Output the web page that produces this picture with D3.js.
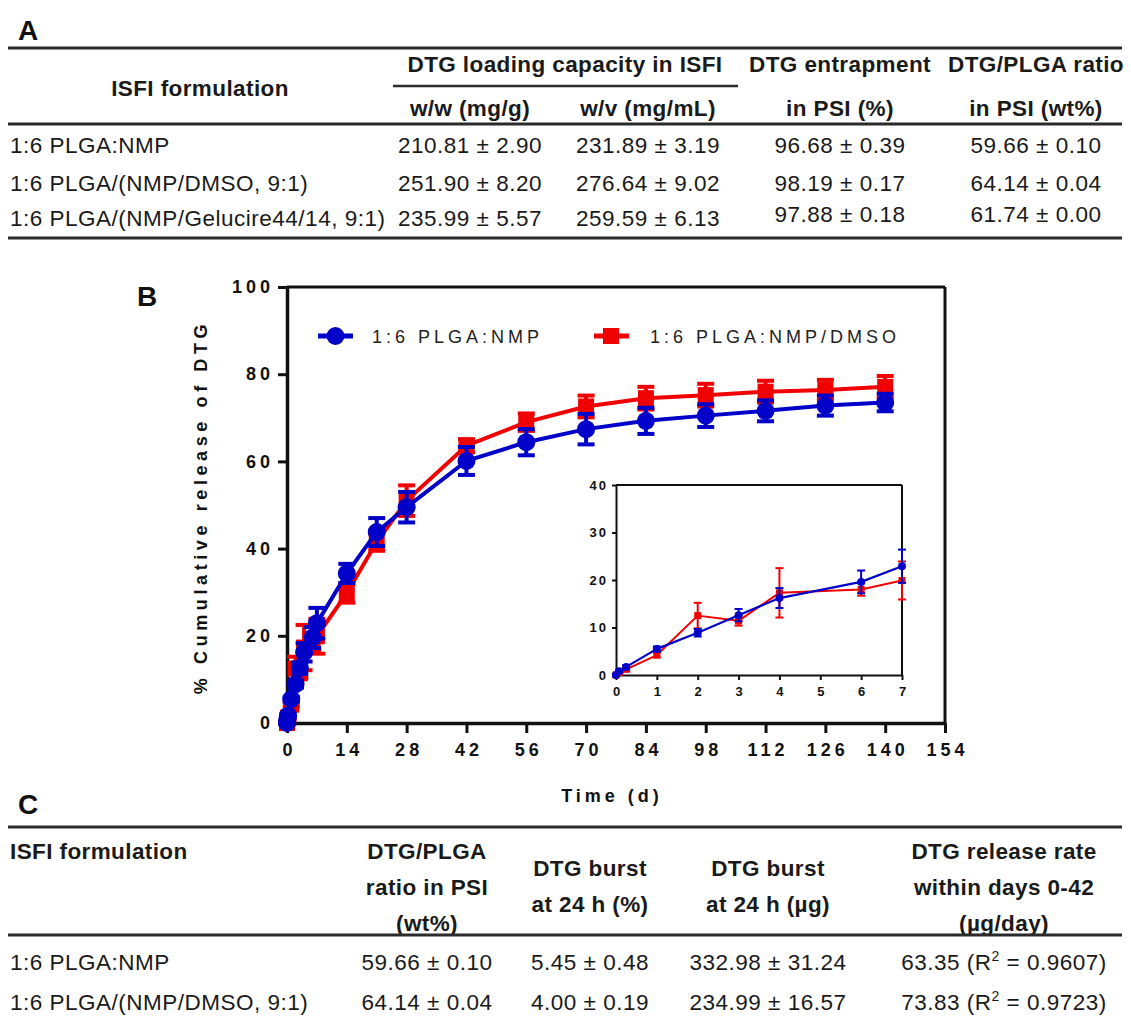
<!DOCTYPE html>
<html>
<head>
<meta charset="utf-8">
<script src="https://cdn.jsdelivr.net/npm/d3@7"></script>
<style>
  html, body { margin: 0; padding: 0; background: #fff; }
  svg { display: block; }
  .tbl { font-family: "Liberation Sans", Arial, sans-serif; font-size: 22.5px; fill: #1a1a1a; letter-spacing: 0.5px; }
  .tbl .hd { font-weight: bold; letter-spacing: 0.4px; }
  .ax text { font-family: "Liberation Sans", Arial, sans-serif; font-weight: bold; fill: #111; }
</style>
</head>
<body>
<div id="chart"></div>
<script>
// ---- release data (days, % cumulative release of DTG) ----
const days      = [0, 0.08, 0.25, 1, 2, 3, 4, 6, 7, 14, 21, 28, 42, 56, 70, 84, 98, 112, 126, 140];
const nmpMean   = [0, 0.8, 1.7, 5.5, 8.9, 12.6, 16.2, 19.6, 22.9, 34.3, 43.8, 49.5, 60.1, 64.4, 67.4, 69.3, 70.5, 71.6, 72.8, 73.5];
const nmpSd     = [0.2, 0.3, 0.4, 0.5, 0.8, 1.3, 2.1, 2.4, 3.5, 2.2, 3.2, 3.5, 3.2, 3.0, 3.5, 3.0, 2.6, 2.4, 2.3, 2.0];
const dmsoMean  = [0, 0.5, 1.2, 4.2, 12.5, 11.4, 17.3, 18.0, 19.9, 29.8, 41.5, 51.0, 63.6, 69.0, 72.6, 74.5, 75.2, 76.0, 76.4, 77.1];
const dmsoSd    = [0.2, 0.3, 0.4, 0.5, 2.7, 1.0, 5.2, 1.3, 4.0, 2.2, 2.0, 3.5, 1.5, 2.0, 2.5, 2.6, 2.6, 2.5, 2.3, 2.5];
const seriesNames = ["1:6 PLGA:NMP", "1:6 PLGA:NMP/DMSO"];
const xTicks    = [0, 14, 28, 42, 56, 70, 84, 98, 112, 126, 140, 154];
const yTicks    = [0, 20, 40, 60, 80, 100];
const insetXTicks = [0, 1, 2, 3, 4, 5, 6, 7];
const insetYTicks = [0, 10, 20, 30, 40];

// ---- table A ----
const tableAHead = ["ISFI formulation", "DTG loading capacity in ISFI", "w/w (mg/g)", "w/v (mg/mL)",
                    ["DTG entrapment", "in PSI (%)"], ["DTG/PLGA ratio", "in PSI (wt%)"]];
const tableARows = ["1:6 PLGA:NMP", "1:6 PLGA/(NMP/DMSO, 9:1)", "1:6 PLGA/(NMP/Gelucire44/14, 9:1)"];
const tableAww   = ["210.81 ± 2.90", "251.90 ± 8.20", "235.99 ± 5.57"];
const tableAwv   = ["231.89 ± 3.19", "276.64 ± 9.02", "259.59 ± 6.13"];
const tableAent  = ["96.68 ± 0.39", "98.19 ± 0.17", "97.88 ± 0.18"];
const tableAratio = ["59.66 ± 0.10", "64.14 ± 0.04", "61.74 ± 0.00"];

// ---- table C ----
const tableCHead = [["ISFI formulation"], ["DTG/PLGA", "ratio in PSI", "(wt%)"], ["DTG burst", "at 24 h (%)"],
                    ["DTG burst", "at 24 h (µg)"], ["DTG release rate", "within days 0-42", "(µg/day)"]];
const tableCRows = ["1:6 PLGA:NMP", "1:6 PLGA/(NMP/DMSO, 9:1)"];
const tableCratio = ["59.66 ± 0.10", "64.14 ± 0.04"];
const tableCburstPct = ["5.45 ± 0.48", "4.00 ± 0.19"];
const tableCburstUg = ["332.98 ± 31.24", "234.99 ± 16.57"];
const tableCrate = ["63.35", "73.83"];
const tableCr2 = ["0.9607", "0.9723"];

const W = 1131, H = 1028;
const BLUE = "#0000c8", RED = "#f00000";

const svg = d3.select("#chart").append("svg").attr("width", W).attr("height", H);
svg.append("rect").attr("width", W).attr("height", H).attr("fill", "#fff");

function panelLabel(t, x, y) {
  svg.append("text").attr("x", x).attr("y", y).text(t)
    .attr("font-family", "Liberation Sans, Arial, sans-serif")
    .attr("font-weight", "bold").attr("font-size", 28).attr("fill", "#111");
}
function rule(y, x0, x1, w) {
  svg.append("line").attr("x1", x0).attr("x2", x1).attr("y1", y).attr("y2", y)
    .attr("stroke", "#2a2a2a").attr("stroke-width", w || 3);
}

// ================= Table A =================
panelLabel("A", 18, 40);
const tA = svg.append("g").attr("class", "tbl");
rule(48, 8, 1122);
rule(124, 8, 1122);
rule(238, 8, 1122);
const colA = [null, 470, 648, 840, 1036];
tA.append("text").attr("class", "hd").attr("x", 200).attr("y", 96).attr("text-anchor", "middle").text(tableAHead[0]);
tA.append("text").attr("class", "hd").attr("x", 565).attr("y", 72).attr("text-anchor", "middle").text(tableAHead[1]);
svg.append("line").attr("x1", 393).attr("x2", 738).attr("y1", 86).attr("y2", 86).attr("stroke", "#2a2a2a").attr("stroke-width", 2.5);
tA.append("text").attr("class", "hd").attr("x", colA[1]).attr("y", 116).attr("text-anchor", "middle").text(tableAHead[2]);
tA.append("text").attr("class", "hd").attr("x", colA[2]).attr("y", 116).attr("text-anchor", "middle").text(tableAHead[3]);
tableAHead[4].forEach((s, i) => tA.append("text").attr("class", "hd").attr("x", colA[3]).attr("y", 72 + i * 44).attr("text-anchor", "middle").text(s));
tableAHead[5].forEach((s, i) => tA.append("text").attr("class", "hd").attr("x", colA[4]).attr("y", 72 + i * 44).attr("text-anchor", "middle").text(s));
const rowYA = [153, 191, 226];
tableARows.forEach((r, i) => {
  const y = rowYA[i];
  tA.append("text").attr("x", 10).attr("y", y).text(r);
  tA.append("text").attr("x", colA[1]).attr("y", y).attr("text-anchor", "middle").text(tableAww[i]);
  tA.append("text").attr("x", colA[2]).attr("y", y).attr("text-anchor", "middle").text(tableAwv[i]);
  const dy = i === 2 ? -4 : 0;
  tA.append("text").attr("x", colA[3]).attr("y", y + dy).attr("text-anchor", "middle").text(tableAent[i]);
  tA.append("text").attr("x", colA[4]).attr("y", y + dy).attr("text-anchor", "middle").text(tableAratio[i]);
});

// ================= Panel B chart =================
panelLabel("B", 137, 306);
const x = d3.scaleLinear().domain([0, 154]).range([287, 945]);
const y = d3.scaleLinear().domain([0, 100]).range([723, 287]);

const gAx = svg.append("g").attr("class", "ax");
const yAxis = gAx.append("g").attr("transform", `translate(${x(0)},0)`)
  .call(d3.axisLeft(y).tickValues(yTicks).tickSize(9).tickPadding(8).tickSizeOuter(0));
const xAxis = gAx.append("g").attr("transform", `translate(0,${y(0)})`)
  .call(d3.axisBottom(x).tickValues(xTicks).tickSize(10).tickPadding(10).tickSizeOuter(0));
[yAxis, xAxis].forEach(a => {
  a.select(".domain").attr("stroke", "#111").attr("stroke-width", 3.5);
  a.selectAll(".tick line").attr("stroke", "#111").attr("stroke-width", 3);
  a.selectAll(".tick text").attr("font-size", 18).attr("letter-spacing", 4).attr("fill", "#111");
});
yAxis.selectAll(".tick text").attr("dx", 4);
xAxis.selectAll(".tick text").attr("dx", 2);
// frame top/right
svg.append("line").attr("x1", x(0)).attr("x2", x(154)).attr("y1", y(100)).attr("y2", y(100)).attr("stroke", "#111").attr("stroke-width", 3);
svg.append("line").attr("x1", x(154)).attr("x2", x(154)).attr("y1", y(100)).attr("y2", y(0)).attr("stroke", "#111").attr("stroke-width", 3);

svg.append("text").attr("transform", `translate(207,507) rotate(-90)`).attr("text-anchor", "middle")
  .attr("font-family", "Liberation Sans, Arial, sans-serif").attr("font-weight", "bold")
  .attr("font-size", 18).attr("letter-spacing", 4.6).attr("fill", "#111")
  .text("% Cumulative release of DTG");
svg.append("text").attr("x", 612).attr("y", 802).attr("text-anchor", "middle")
  .attr("font-family", "Liberation Sans, Arial, sans-serif").attr("font-weight", "bold")
  .attr("font-size", 18).attr("letter-spacing", 4).attr("fill", "#111")
  .text("Time (d)");

const toPts = (m, s) => days.map((d, i) => ({ d, v: m[i], e: s[i] }));
const nmp = toPts(nmpMean, nmpSd);
const dmso = toPts(dmsoMean, dmsoSd);

function drawSeries(g, data, xs, ys, color, shape, opt) {
  g.append("path").datum(data)
    .attr("fill", "none").attr("stroke", color).attr("stroke-width", opt.lw)
    .attr("stroke-linejoin", "round")
    .attr("d", d3.line().x(p => xs(p.d)).y(p => ys(p.v)));
  const eb = g.append("g").attr("stroke", color).attr("stroke-width", opt.ew);
  data.forEach(p => {
    const cx = xs(p.d);
    eb.append("line").attr("x1", cx).attr("x2", cx).attr("y1", ys(p.v - p.e)).attr("y2", ys(p.v + p.e));
    [p.v - p.e, p.v + p.e].forEach(v => eb.append("line")
      .attr("x1", cx - opt.cap).attr("x2", cx + opt.cap).attr("y1", ys(v)).attr("y2", ys(v)));
  });
  if (shape === "circle") {
    g.selectAll(null).data(data).enter().append("circle")
      .attr("cx", p => xs(p.d)).attr("cy", p => ys(p.v)).attr("r", opt.ms).attr("fill", color);
  } else {
    g.selectAll(null).data(data).enter().append("rect")
      .attr("x", p => xs(p.d) - opt.ms).attr("y", p => ys(p.v) - opt.ms)
      .attr("width", opt.ms * 2).attr("height", opt.ms * 2).attr("fill", color);
  }
}
const gMain = svg.append("g");
drawSeries(gMain, dmso, x, y, RED, "square", { lw: 4, ew: 4, cap: 8.5, ms: 8 });
drawSeries(gMain, nmp, x, y, BLUE, "circle", { lw: 4, ew: 4, cap: 8.5, ms: 9 });

// legend
const leg = svg.append("g").attr("font-family", "Liberation Sans, Arial, sans-serif")
  .attr("font-size", 18).attr("letter-spacing", 4).attr("fill", "#222");
leg.append("line").attr("x1", 318).attr("x2", 353).attr("y1", 336).attr("y2", 336).attr("stroke", BLUE).attr("stroke-width", 5);
leg.append("circle").attr("cx", 335.5).attr("cy", 336).attr("r", 9).attr("fill", BLUE);
leg.append("text").attr("x", 372).attr("y", 343).text(seriesNames[0]);
leg.append("line").attr("x1", 594).attr("x2", 629).attr("y1", 336).attr("y2", 336).attr("stroke", RED).attr("stroke-width", 5);
leg.append("rect").attr("x", 603).attr("y", 328).attr("width", 16).attr("height", 16).attr("fill", RED);
leg.append("text").attr("x", 650).attr("y", 343).text(seriesNames[1]);

// ---- inset ----
const xi = d3.scaleLinear().domain([0, 7]).range([616, 902]);
const yi = d3.scaleLinear().domain([0, 40]).range([675, 485]);
const gIn = svg.append("g").attr("class", "ax");
const yiAx = gIn.append("g").attr("transform", `translate(${xi(0)},0)`)
  .call(d3.axisLeft(yi).tickValues(insetYTicks).tickFormat(d3.format("d")).tickSize(4).tickPadding(4).tickSizeOuter(0));
const xiAx = gIn.append("g").attr("transform", `translate(0,${yi(0)})`)
  .call(d3.axisBottom(xi).tickValues(insetXTicks).tickFormat(d3.format("d")).tickSize(5).tickPadding(7).tickSizeOuter(0));
[yiAx, xiAx].forEach(a => {
  a.select(".domain").attr("stroke", "#111").attr("stroke-width", 2);
  a.selectAll(".tick line").attr("stroke", "#111").attr("stroke-width", 2);
  a.selectAll(".tick text").attr("font-size", 13).attr("letter-spacing", 2).attr("fill", "#111");
});
xiAx.selectAll(".tick text").attr("dx", 1);
svg.append("line").attr("x1", xi(0)).attr("x2", xi(7)).attr("y1", yi(40)).attr("y2", yi(40)).attr("stroke", "#111").attr("stroke-width", 2);
svg.append("line").attr("x1", xi(7)).attr("x2", xi(7)).attr("y1", yi(40)).attr("y2", yi(0)).attr("stroke", "#111").attr("stroke-width", 2);
const gInset = svg.append("g");
drawSeries(gInset, dmso.filter(p => p.d <= 7), xi, yi, RED, "square", { lw: 2, ew: 2, cap: 4, ms: 3.5 });
drawSeries(gInset, nmp.filter(p => p.d <= 7), xi, yi, BLUE, "circle", { lw: 2.2, ew: 2, cap: 4, ms: 4 });

// ================= Table C =================
panelLabel("C", 18, 814);
const tC = svg.append("g").attr("class", "tbl");
rule(827, 8, 1122);
rule(935, 8, 1122);
const colC = [10, 427, 590, 768, 1004];
tableCHead[0].forEach((s, i) => tC.append("text").attr("class", "hd").attr("x", colC[0]).attr("y", 859).text(s));
tableCHead[1].forEach((s, i) => tC.append("text").attr("class", "hd").attr("x", colC[1]).attr("y", 859 + i * 36).attr("text-anchor", "middle").text(s));
tableCHead[2].forEach((s, i) => tC.append("text").attr("class", "hd").attr("x", colC[2]).attr("y", 876 + i * 36).attr("text-anchor", "middle").text(s));
tableCHead[3].forEach((s, i) => tC.append("text").attr("class", "hd").attr("x", colC[3]).attr("y", 876 + i * 36).attr("text-anchor", "middle").text(s));
tableCHead[4].forEach((s, i) => tC.append("text").attr("class", "hd").attr("x", colC[4]).attr("y", 859 + i * 36).attr("text-anchor", "middle").text(s));
const rowYC = [970, 1010];
tableCRows.forEach((r, i) => {
  const yy = rowYC[i];
  tC.append("text").attr("x", colC[0]).attr("y", yy).text(r);
  tC.append("text").attr("x", colC[1]).attr("y", yy).attr("text-anchor", "middle").text(tableCratio[i]);
  tC.append("text").attr("x", colC[2]).attr("y", yy).attr("text-anchor", "middle").text(tableCburstPct[i]);
  tC.append("text").attr("x", colC[3]).attr("y", yy).attr("text-anchor", "middle").text(tableCburstUg[i]);
  const t = tC.append("text").attr("x", colC[4]).attr("y", yy).attr("text-anchor", "middle");
  t.append("tspan").text(tableCrate[i] + " (R");
  t.append("tspan").attr("font-size", 14).attr("dy", -9).text("2");
  t.append("tspan").attr("dy", 9).text(" = " + tableCr2[i] + ")");
});
</script>
</body>
</html>
